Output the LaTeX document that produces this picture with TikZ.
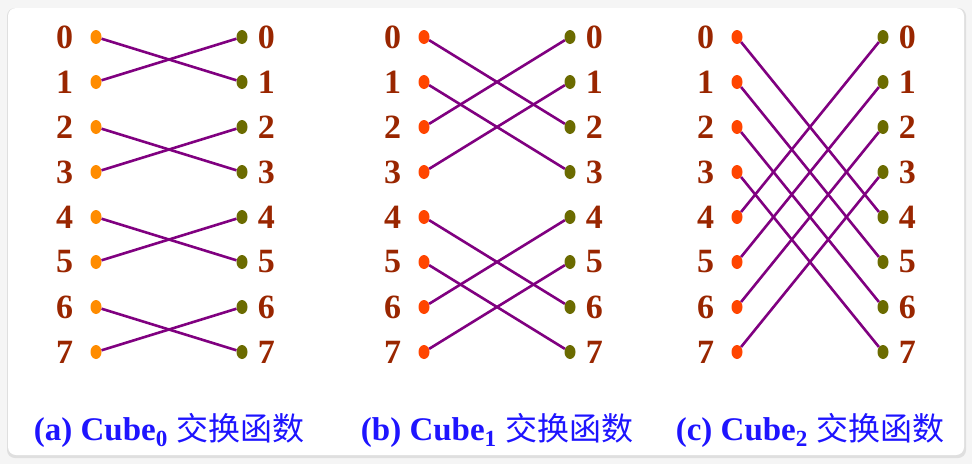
\documentclass[tikz,border=0pt]{standalone}
\usepackage{fontspec}
\setmainfont{Liberation Serif}
\newfontfamily\cjk{Noto Sans CJK SC}
\usetikzlibrary{shapes.geometric, positioning}
\definecolor{numred}{RGB}{153,38,0}
\definecolor{dotA}{RGB}{255,140,0}
\definecolor{dotB}{RGB}{255,69,0}
\definecolor{dotR}{RGB}{107,107,0}
\definecolor{wirecol}{RGB}{128,0,128}
\definecolor{capblue}{RGB}{30,20,255}
\tikzset{dot/.style = {ellipse, inner sep = 0pt, minimum width = 11pt, minimum height = 14pt}}
\tikzset{idx/.style = {inner sep = 0pt, text = numred, font = \bfseries\fontsize{34}{34}\selectfont}}
\tikzset{wire/.style = {draw = wirecol, line width = 2.6pt}}
\tikzset{caption/.style = {inner sep = 0pt, text = capblue, font = \bfseries\fontsize{33}{33}\selectfont}}

\begin{document}
\begin{tikzpicture}[x = 1pt, y = -1pt]
\useasboundingbox (0,0) rectangle (972,464);
\fill[gray!8] (0,0) rectangle (972,464);
\fill[gray!25, rounded corners = 8pt] (7,8) rectangle (966,458);
\fill[white, rounded corners = 8pt] (8,8) rectangle (964,455);
\foreach \k/\x/\lcol/\tag in {0/96/dotA/a, 1/424/dotB/b, 2/737/dotB/c}{
  \foreach \i in {0,...,7}{
    \node[dot, fill = \lcol] (L\k\i) at (\x, 37+45*\i) {};
    \node[dot, fill = dotR] (R\k\i) at (\x+146, 37+45*\i) {};
    \node[idx, left = 17pt of L\k\i] (nl\k\i) {\i};
    \node[idx, right = 10pt of R\k\i] (nr\k\i) {\i};
  }
  % cube_k: i <-> i xor 2^k
  \foreach \i in {0,...,7}{
    \pgfmathtruncatemacro\j{mod(floor(\i/2^\k),2) == 0 ? \i+2^\k : \i-2^\k}
    \draw[wire] (L\k\i) -- (R\k\j);
  }
  \node[caption] (cap\k) at (\x+73, 430) {(\tag) Cube\textsubscript{\k} {\cjk\mdseries\fontsize{32}{32}\selectfont 交换函数}};
}
\end{tikzpicture}
\end{document}
